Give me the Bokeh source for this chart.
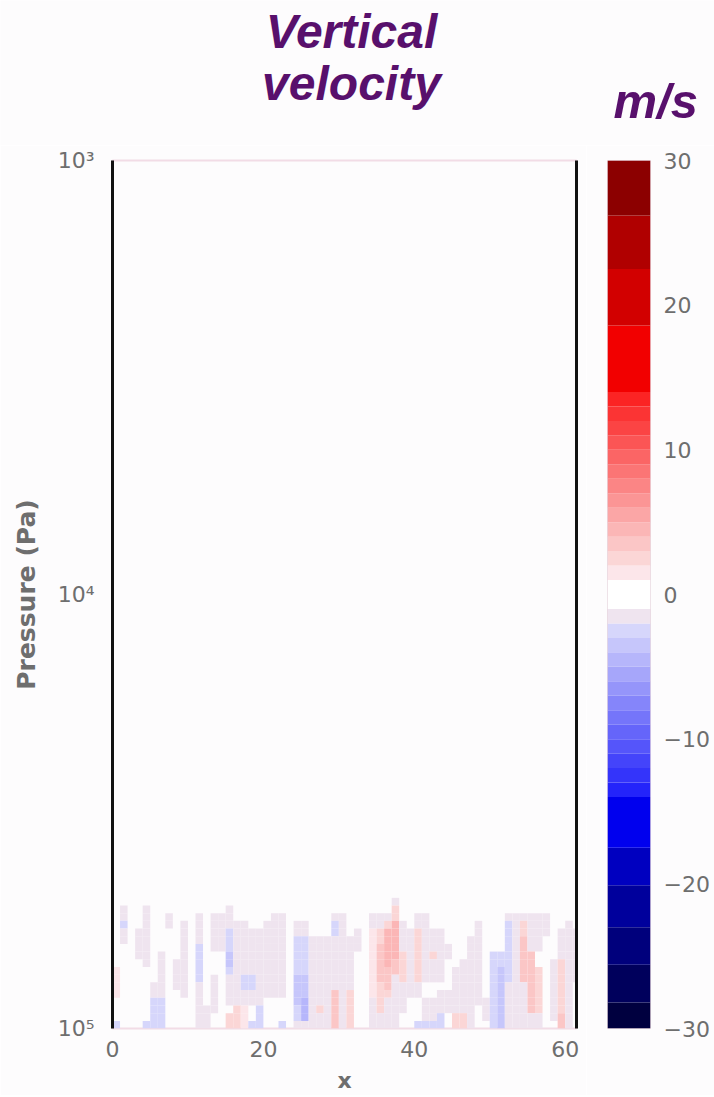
from bokeh.plotting import figure
from bokeh.models import (Range1d, FixedTicker, CustomJSTickFormatter, LinearAxis,
                          ColumnDataSource, Label)
from bokeh.layouts import row, column
from bokeh.embed import file_html
from bokeh.resources import INLINE
import numpy as np

# ---------------- data ----------------
TITLE_LINES = ["Vertical", "velocity"]
UNITS = "m/s"
X_LABEL = "x"
Y_LABEL = "Pressure (Pa)"
X_TICKS = [0, 20, 40, 60]
Y_TICKS = [1000, 10000, 100000]
CB_TICKS = [-30, -20, -10, 0, 10, 20, 30]
N_COLS = 62
X_MAX = 61.5
# pressure edges of the model rows (Pa), top -> bottom
P_EDGES = [50000, 52080, 54240, 56490, 58850, 61300, 63840, 66490, 69260,
           72150, 75160, 78290, 81540, 84930, 88470, 92170, 96050, 100000]
# value (m/s) for each cell class
CODE_VALUES = {'.': 0.0, 'l': -1.5, 'b': -2.5, 'B': -3.5, 'D': -4.5,
               'p': 1.5, 'r': 2.5, 'R': 3.5, 'S': 4.5}
# vertical runs of cells: (column, first row, last row, class)
RUNS = [
    (0, 9, 12, 'p'), (0, 16, 16, 'b'),
    (1, 1, 5, 'l'), (1, 3, 3, 'b'),
    (3, 4, 7, 'l'),
    (4, 1, 8, 'l'), (4, 16, 16, 'b'),
    (5, 11, 12, 'l'), (5, 13, 16, 'b'),
    (6, 7, 12, 'l'), (6, 13, 16, 'b'),
    (7, 2, 3, 'l'),
    (8, 8, 11, 'l'),
    (9, 3, 12, 'l'),
    (11, 2, 16, 'l'), (11, 6, 10, 'b'),
    (12, 14, 16, 'l'),
    (13, 2, 6, 'l'), (13, 10, 14, 'l'),
    (14, 2, 6, 'l'),
    (15, 1, 13, 'l'), (15, 4, 9, 'b'), (15, 7, 8, 'B'), (15, 15, 16, 'r'),
    (16, 3, 13, 'l'), (16, 14, 16, 'r'),
    (17, 3, 13, 'l'), (17, 10, 11, 'b'), (17, 14, 16, 'p'),
    (18, 4, 13, 'l'), (18, 10, 11, 'b'), (18, 16, 16, 'b'),
    (19, 4, 13, 'l'), (19, 14, 15, 'b'), (19, 16, 16, 'b'),
    (20, 3, 12, 'l'),
    (21, 2, 12, 'l'),
    (22, 2, 12, 'l'), (22, 16, 16, 'b'),
    (24, 3, 16, 'l'), (24, 5, 15, 'b'), (24, 10, 13, 'B'),
    (25, 3, 16, 'l'), (25, 5, 15, 'b'), (25, 10, 14, 'B'), (25, 13, 15, 'D'),
    (26, 5, 16, 'l'),
    (27, 5, 16, 'l'), (27, 14, 14, 'r'),
    (28, 5, 16, 'l'),
    (29, 2, 14, 'l'), (29, 3, 4, 'b'), (29, 12, 16, 'R'),
    (30, 2, 16, 'l'),
    (31, 5, 11, 'l'), (31, 12, 16, 'r'),
    (32, 4, 6, 'l'),
    (34, 2, 16, 'l'), (34, 4, 12, 'p'),
    (35, 2, 16, 'l'), (35, 4, 5, 'r'), (35, 6, 10, 'R'), (35, 11, 14, 'r'),
    (36, 2, 16, 'l'), (36, 3, 3, 'r'), (36, 4, 8, 'S'), (36, 9, 11, 'R'), (36, 12, 12, 'r'),
    (37, 0, 16, 'l'), (37, 1, 2, 'r'), (37, 3, 7, 'S'), (37, 8, 9, 'R'),
    (38, 3, 14, 'l'), (38, 7, 10, 'r'),
    (39, 4, 12, 'l'),
    (40, 2, 12, 'l'), (40, 4, 10, 'r'), (40, 16, 16, 'b'),
    (41, 2, 10, 'l'), (41, 13, 15, 'l'), (41, 16, 16, 'b'),
    (42, 4, 10, 'l'), (42, 7, 7, 'r'), (42, 13, 15, 'l'), (42, 16, 16, 'b'),
    (43, 4, 10, 'l'), (43, 12, 14, 'l'), (43, 15, 16, 'b'),
    (44, 6, 7, 'l'), (44, 12, 14, 'l'),
    (45, 9, 14, 'l'), (45, 15, 16, 'r'),
    (46, 8, 14, 'l'), (46, 15, 16, 'r'),
    (47, 5, 16, 'l'),
    (48, 3, 13, 'l'),
    (49, 13, 15, 'l'),
    (50, 7, 15, 'b'), (50, 16, 16, 'b'),
    (51, 7, 8, 'b'), (51, 9, 16, 'B'),
    (52, 2, 2, 'l'), (52, 3, 10, 'b'), (52, 11, 16, 'l'),
    (53, 2, 16, 'l'),
    (54, 2, 2, 'l'), (54, 3, 4, 'r'), (54, 5, 10, 'R'), (54, 11, 16, 'l'),
    (55, 2, 6, 'l'), (55, 7, 14, 'R'), (55, 15, 16, 'l'),
    (56, 2, 6, 'l'), (56, 9, 14, 'r'), (56, 15, 16, 'l'),
    (57, 2, 4, 'l'),
    (58, 8, 15, 'l'),
    (59, 4, 8, 'l'), (59, 8, 15, 'r'), (59, 15, 16, 'R'),
    (60, 3, 16, 'l'),
    (61, 4, 10, 'l'),
]
# colour levels (m/s) and colours of each band
LEVELS = [-30, -28.2, -25.6, -23, -20.1, -17.5, -14, -13, -12, -11, -10, -9, -8,
          -7, -6, -5, -4, -3, -2, -1, 1, 2, 3, 4, 5, 6, 7, 8, 9, 10, 11, 12, 13,
          14, 18.6, 22.5, 26.2, 30]
PALETTE = ["#00003f", "#00005c", "#00007c", "#00009c", "#0000c0", "#0000ee",
           "#2424fa", "#3434fa", "#4444fa", "#5555fa", "#6565fa", "#7575fa",
           "#8585fa", "#9595fa", "#a6a6fa", "#b6b6fb", "#c6c6fb", "#d6d6fb",
           "#efe4ef", "#ffffff", "#fce6ea",
           "#fbd6d6", "#fbc6c6", "#fbb6b6", "#fba6a6", "#fb9595", "#fb8585",
           "#fb7575", "#fb6565", "#fb5555", "#fb4444", "#fb3434", "#fb2424",
           "#f20000", "#d20000", "#b00000", "#8c0000"]

# ---------------- build table ----------------
n_rows = len(P_EDGES) - 1
grid = [['.'] * N_COLS for _ in range(n_rows)]
for c, r0, r1, code in RUNS:
    for r in range(r0, r1 + 1):
        grid[r][c] = code

lev = np.array(LEVELS, dtype=float)
left, right, top, bottom, vals, colors = [], [], [], [], [], []
for r in range(n_rows):
    for c in range(N_COLS):
        v = CODE_VALUES[grid[r][c]]
        if v == 0.0:
            continue
        k = int(np.clip(np.searchsorted(lev, v, side='right') - 1, 0, len(PALETTE) - 1))
        left.append(c)
        right.append(c + 1)
        top.append(P_EDGES[r])
        bottom.append(P_EDGES[r + 1])
        vals.append(v)
        colors.append(PALETTE[k])
src = ColumnDataSource(dict(left=left, right=right, top=top, bottom=bottom, v=vals, color=colors))

PURPLE = "#58106c"
GREY = "#6e6e6e"
TICK_FONT = "DejaVu Sans"
TITLE_FONT = "Liberation Sans"
BG = "#fdfcfd"
PAGE_W = 714
HEAD_H = 145

# ---------------- heading strip (titles) ----------------
head = figure(width=PAGE_W, height=HEAD_H, output_backend="svg", toolbar_location=None,
              x_range=Range1d(0, PAGE_W), y_range=Range1d(HEAD_H, 0),
              x_axis_location=None, y_axis_location=None,
              min_border=0, background_fill_color=BG, border_fill_color=BG)
head.grid.visible = False
head.outline_line_color = None
for txt, xx, yy, size, align in [(TITLE_LINES[0], 351, 31, "48px", "center"),
                                 (TITLE_LINES[1], 351, 83, "48px", "center"),
                                 (UNITS, 613, 100, "49px", "left")]:
    head.add_layout(Label(x=xx, y=yy, text=txt, text_font=TITLE_FONT, text_font_size=size,
                          text_font_style="bold italic", text_color=PURPLE,
                          text_align=align, text_baseline="alphabetic"))

# ---------------- main figure ----------------
p = figure(width=586, height=950, output_backend="svg", toolbar_location=None,
           y_axis_type="log", x_range=Range1d(0, X_MAX), y_range=Range1d(P_EDGES[-1], 1000),
           min_border_left=112, min_border_right=10, min_border_top=15, min_border_bottom=67,
           background_fill_color=BG, border_fill_color=BG)
p.quad(left='left', right='right', top='top', bottom='bottom', fill_color='color',
       line_color=None, source=src)

p.xgrid.visible = False
p.ygrid.visible = False
p.outline_line_color = "#f2dce6"
p.outline_line_width = 2

p.xaxis.ticker = FixedTicker(ticks=X_TICKS)
p.xaxis.axis_line_color = None
p.xaxis.major_tick_line_color = None
p.xaxis.minor_tick_line_color = None
p.xaxis.axis_label = X_LABEL
p.xaxis.axis_label_text_font = TICK_FONT
p.xaxis.axis_label_text_font_style = "bold"
p.xaxis.axis_label_text_font_size = "22px"
p.xaxis.axis_label_text_color = GREY
p.xaxis.axis_label_standoff = 8
p.xaxis.major_label_text_font = TICK_FONT
p.xaxis.major_label_text_font_size = "22px"
p.xaxis.major_label_text_color = GREY
p.xaxis.major_label_standoff = 6

p.yaxis.ticker = FixedTicker(ticks=Y_TICKS)
p.yaxis.formatter = CustomJSTickFormatter(code="""
    const sup = {3: '\u00b3', 4: '\u2074', 5: '\u2075'};
    return '10' + sup[Math.round(Math.log10(tick))];
""")
p.yaxis.axis_line_color = "#111111"
p.yaxis.axis_line_width = 3
p.yaxis.major_tick_line_color = None
p.yaxis.minor_tick_line_color = None
p.yaxis.axis_label = Y_LABEL
p.yaxis.axis_label_text_font = TICK_FONT
p.yaxis.axis_label_text_font_style = "bold"
p.yaxis.axis_label_text_font_size = "25px"
p.yaxis.axis_label_text_color = GREY
p.yaxis.axis_label_standoff = 14
p.yaxis.major_label_text_font = TICK_FONT
p.yaxis.major_label_text_font_size = "22px"
p.yaxis.major_label_text_color = GREY
p.yaxis.major_label_standoff = 12

right_axis = LinearAxis(major_label_text_font_size="0px", major_tick_line_color=None,
                        minor_tick_line_color=None, axis_line_color="#111111",
                        axis_line_width=3, ticker=FixedTicker(ticks=[]))
p.add_layout(right_axis, "right")

# ---------------- colour bar figure ----------------
cb_src = ColumnDataSource(dict(bottom=LEVELS[:-1], top=LEVELS[1:], color=PALETTE))
cb = figure(width=PAGE_W - 586, height=950, output_backend="svg", toolbar_location=None,
            x_range=Range1d(0, 1), y_range=Range1d(LEVELS[0], LEVELS[-1]),
            x_axis_location=None, y_axis_location="right",
            min_border_left=21, min_border_right=64, min_border_top=15, min_border_bottom=67,
            background_fill_color=BG, border_fill_color=BG)
cb.quad(left=0, right=1, bottom='bottom', top='top', fill_color='color',
        line_color=None, source=cb_src)
cb.xgrid.visible = False
cb.ygrid.visible = False
cb.outline_line_color = "#e8d8e0"
cb.yaxis.ticker = FixedTicker(ticks=CB_TICKS)
cb.yaxis.formatter = CustomJSTickFormatter(code="""
    return tick < 0 ? '\u2212' + Math.abs(tick) : String(tick);
""")
cb.yaxis.axis_line_color = None
cb.yaxis.major_tick_line_color = None
cb.yaxis.minor_tick_line_color = None
cb.yaxis.major_label_text_font = TICK_FONT
cb.yaxis.major_label_text_font_size = "22px"
cb.yaxis.major_label_text_color = GREY
cb.yaxis.major_label_standoff = 7

layout = column(head, row(p, cb))
open("out.html", "w").write(file_html(layout, INLINE))
